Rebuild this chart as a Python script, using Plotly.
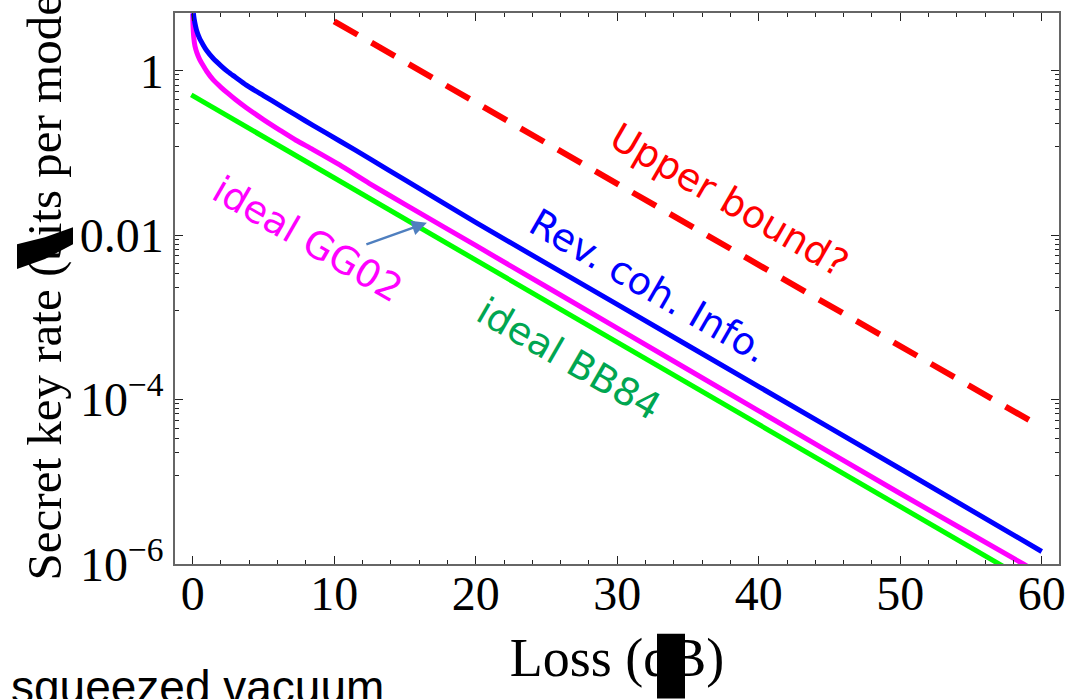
import plotly.graph_objects as go

# ---------------- data ----------------
loss_revcoh = [0.05, 0.1, 0.2, 0.3, 0.5, 0.75, 1.0, 1.44, 2.0, 2.5, 3.0, 3.79, 5.0, 6.15, 7.3, 8.5,
               10.39, 12.5, 15, 20, 30, 40, 50, 60]
rate_revcoh = [5.0, 4.3, 3.5, 3.0, 2.45, 2.05, 1.75, 1.42, 1.15, 0.97, 0.84, 0.67, 0.50, 0.38, 0.288,
               0.217, 0.14, 0.0855, 0.047, 0.0143, 0.00144, 0.000144, 1.44e-5, 1.42e-6]

loss_gg02 = [0.0, 0.03, 0.08, 0.16, 0.3, 0.49, 0.75, 1.0, 1.44, 2.0, 2.5, 3.0, 3.79, 5.0, 6.15, 7.3,
             8.5, 10.39, 12.5, 15, 20, 30, 40, 50, 58.7, 60]
rate_gg02 = [5.0, 3.4, 2.5, 2.0, 1.65, 1.38, 1.15, 0.98, 0.78, 0.63, 0.53, 0.45, 0.355, 0.255, 0.19,
             0.143, 0.11, 0.0715, 0.0425, 0.0237, 0.0075, 0.00074, 7.3e-5, 7.2e-6, 1.0e-6, 7.4e-7]

loss_bb84 = [-0.1, 10, 20, 30, 40, 50, 60]
rate_bb84 = [0.51, 0.05, 0.005, 5e-4, 5e-5, 5e-6, 5e-7]

loss_upper = [10, 60]
rate_upper = [4.0, 4.6e-5]

x_ticks = [0, 10, 20, 30, 40, 50, 60]
y_ticks = [1e-6, 1e-4, 1e-2, 1]
y_ticktext = ["10<sup>−6</sup>", "10<sup>−4</sup>", "0.01", "1"]

# labels: (text, loss, log10(rate), colour)
labels = [
    ("Upper bound?", 37.9, -1.57, "#ff0000"),
    ("Rev. coh. Info.", 32.2, -2.62, "#0000ff"),
    ("ideal GG02", 8.1, -2.05, "#ff00ff"),
    ("ideal BB84", 26.6, -3.50, "#00a651"),
]

# ---------------- figure ----------------
fig = go.Figure()
fig.add_trace(go.Scatter(x=loss_upper, y=rate_upper, mode="lines",
                         line=dict(color="#ff0000", width=6, dash="27px,16px")))
fig.add_trace(go.Scatter(x=loss_bb84, y=rate_bb84, mode="lines",
                         line=dict(color="#00ff00", width=5)))
fig.add_trace(go.Scatter(x=loss_gg02, y=rate_gg02, mode="lines",
                         line=dict(color="#ff00ff", width=5, shape="spline", smoothing=0.7)))
fig.add_trace(go.Scatter(x=loss_revcoh, y=rate_revcoh, mode="lines",
                         line=dict(color="#0000ff", width=5, shape="spline", smoothing=0.7)))

for text, lx, ly, col in labels:
    fig.add_annotation(x=lx, y=ly, xref="x", yref="y", text=text, showarrow=False,
                       textangle=30, font=dict(family="DejaVu Sans", size=38, color=col))

# arrow pointing at GG02 curve
fig.add_annotation(x=16.55, y=-1.85, xref="x", yref="y", text="", showarrow=True,
                   arrowhead=2, arrowsize=1.2, arrowwidth=2.5, arrowcolor="#4f7fbf",
                   ax=-62, ay=22)

W_PLOT, H_PLOT, L_M, T_M = 884, 553, 175, 11
def px(xp):
    return (xp - L_M) / W_PLOT
def py(yp):
    return (T_M + H_PLOT - yp) / H_PLOT

# y-axis title (top end runs off the page as in the reference)
fig.add_annotation(x=px(44), y=py(583), xref="paper", yref="paper",
                   text="Secret key rate (bits per mode)", showarrow=False, textangle=-90,
                   xanchor="center", yanchor="bottom",
                   font=dict(family="Liberation Serif", size=49, color="black"))

# bottom-left caption (partially cut by the page edge)
fig.add_annotation(x=-0.188, y=-0.172, xref="paper", yref="paper", text="squeezed vacuum",
                   showarrow=False, xanchor="left", yanchor="top",
                   font=dict(family="Liberation Sans", size=46, color="black"))

# black blocks present in the reference image
fig.add_shape(type="rect", xref="paper", yref="paper",
              x0=px(657), x1=px(685), y0=py(699), y1=py(634),
              fillcolor="black", line=dict(width=0))
fig.add_shape(type="path", xref="paper", yref="paper",
              path=f"M {px(17)} {py(243)} L {px(45)} {py(236)} L {px(73)} {py(226)} "
                   f"L {px(73)} {py(243)} L {px(45)} {py(258)} L {px(17)} {py(268)} Z",
              fillcolor="black", line=dict(width=0))

axis_common = dict(showline=True, linecolor="#666666", linewidth=1.5, mirror="allticks",
                   ticks="inside", tickcolor="#222222", tickwidth=1.2, ticklen=8,
                   showgrid=False, zeroline=False,
                   tickfont=dict(family="Liberation Serif", size=48, color="black"))

y_minor = []
for lo in [1e-6, 1e-4, 1e-2]:
    step = (lo * 100 - lo) / 9
    y_minor += [lo + k * step for k in range(1, 9)]

fig.update_xaxes(range=[-1.25, 61.22], tickvals=x_ticks, ticktext=[str(v) for v in x_ticks],
                 ticklabelstandoff=-13,
                 minor=dict(dtick=2, tick0=0, ticks="inside", ticklen=4, tickcolor="#222222",
                            tickwidth=1.2),
                 title=dict(text="Loss (dB)", font=dict(family="Liberation Serif", size=54, color="black"),
                            standoff=19),
                 **axis_common)
fig.update_yaxes(type="log", range=[-6, 0.703], tickvals=y_ticks, ticktext=y_ticktext,
                 minor=dict(tickmode="array", tickvals=y_minor, ticks="inside", ticklen=4,
                            tickcolor="#222222", tickwidth=1.2),
                 **axis_common)

fig.update_layout(width=1078, height=699, showlegend=False,
                  margin=dict(l=175, r=19, t=11, b=135),
                  paper_bgcolor="white", plot_bgcolor="white")

fig.write_html("out.html")
